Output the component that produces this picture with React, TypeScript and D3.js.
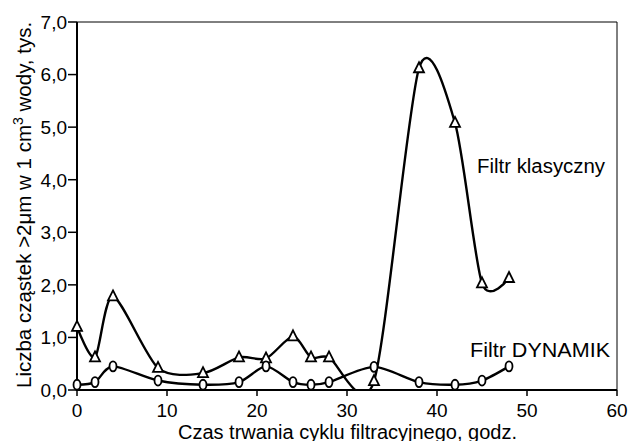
import React from "react";
import * as d3 from "d3";

const hours = [0, 2, 4, 9, 14, 18, 21, 24, 26, 28, 33, 38, 42, 45, 48];
const klasyczny = [1.2, 0.62, 1.78, 0.42, 0.32, 0.62, 0.6, 1.02, 0.62, 0.62, 0.17, 6.12, 5.08, 2.03, 2.13];
const dynamik = [0.1, 0.15, 0.45, 0.18, 0.1, 0.15, 0.45, 0.15, 0.1, 0.15, 0.44, 0.15, 0.1, 0.18, 0.45];
const xTicks = [0, 10, 20, 30, 40, 50, 60];
const yTicks = [0, 1, 2, 3, 4, 5, 6, 7];

const W = 631, H = 441;
const m = { left: 77, right: 617, top: 22, bottom: 390 };
const font = "'Liberation Sans', Arial, sans-serif";

export default function App() {
  const x = d3.scaleLinear().domain([0, 60]).range([m.left, m.right]);
  const y = d3.scaleLinear().domain([0, 7]).range([m.bottom, m.top]);
  const line = d3
    .line<number>()
    .x((_, i) => x(hours[i]))
    .y((d) => y(d))
    .curve(d3.curveCardinal.tension(0.2));
  const fmt = (v: number) => v.toFixed(1).replace(".", ",");
  const tri = (cx: number, cy: number) =>
    `M${cx},${cy - 6} L${cx + 5},${cy + 4} L${cx - 5},${cy + 4} Z`;
  return (
    <svg width={W} height={H} style={{ position: "absolute", left: 0, top: 0, background: "#fff" }}>
      <defs>
        <clipPath id="plot">
          <rect x={m.left - 10} y={0} width={m.right - m.left + 20} height={m.bottom + 1} />
        </clipPath>
      </defs>
      <rect x={0} y={0} width={W} height={H} fill="#fff" />
      {/* frame */}
      <line x1={m.left} x2={m.right} y1={m.top} y2={m.top} stroke="#000" strokeWidth={1} />
      <line x1={m.right} x2={m.right} y1={m.top} y2={m.bottom} stroke="#000" strokeWidth={1} />
      <line x1={m.left} x2={m.left} y1={m.top} y2={m.bottom + 1} stroke="#000" strokeWidth={2} />
      <line x1={m.left - 1} x2={m.right} y1={m.bottom} y2={m.bottom} stroke="#000" strokeWidth={2} />
      {yTicks.map((t) => (
        <g key={"y" + t}>
          <line x1={m.left - 9} x2={m.left} y1={y(t)} y2={y(t)} stroke="#000" strokeWidth={1.5} />
          <text x={m.left - 10} y={y(t)} dy="0.36em" textAnchor="end" fontFamily={font} fontSize={19}>
            {fmt(t)}
          </text>
        </g>
      ))}
      {xTicks.map((t) => (
        <g key={"x" + t}>
          <line x1={x(t)} x2={x(t)} y1={m.bottom} y2={m.bottom + 6} stroke="#000" strokeWidth={1.5} />
          <text x={x(t)} y={m.bottom + 27} textAnchor="middle" fontFamily={font} fontSize={19}>
            {t}
          </text>
        </g>
      ))}
      <g clipPath="url(#plot)">
        <path d={line(klasyczny) || ""} fill="none" stroke="#000" strokeWidth={2.4} />
        <path d={line(dynamik) || ""} fill="none" stroke="#000" strokeWidth={2.4} />
      </g>
      {klasyczny.map((v, i) => (
        <path key={"k" + i} d={tri(x(hours[i]), y(v))} fill="#fff" stroke="#000" strokeWidth={1.8} />
      ))}
      {dynamik.map((v, i) => (
        <ellipse key={"d" + i} cx={x(hours[i])} cy={y(v)} rx={3.5} ry={5} fill="#fff" stroke="#000" strokeWidth={1.8} />
      ))}
      <text x={477} y={173} fontFamily={font} fontSize={20} textLength={128} lengthAdjust="spacingAndGlyphs">
        Filtr klasyczny
      </text>
      <text x={470} y={357} fontFamily={font} fontSize={20} textLength={140} lengthAdjust="spacingAndGlyphs">
        Filtr DYNAMIK
      </text>
      <text x={178} y={439} fontFamily={font} fontSize={20} textLength={339} lengthAdjust="spacingAndGlyphs">
        Czas trwania cyklu filtracyjnego, godz.
      </text>
      <text
        transform={`translate(31, 388) rotate(-90)`}
        fontFamily={font}
        fontSize={20.5}
      >
        Liczba cząstek &gt;2μm w 1 cm<tspan dy={-8} fontSize={14}>3</tspan>
        <tspan dy={8}> wody, tys.</tspan>
      </text>
    </svg>
  );
}
